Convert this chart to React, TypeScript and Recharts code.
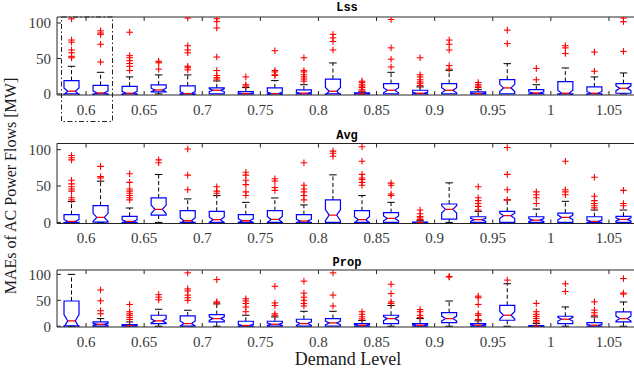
import React from 'react';
import { ComposedChart, Bar, Scatter, XAxis, YAxis } from 'recharts';

// Demand levels (tick labels), two boxes per level
const levels = ['0.6', '0.65', '0.7', '0.75', '0.8', '0.85', '0.9', '0.95', '1', '1.05'];
const tickPos = [1, 3, 5, 7, 9, 11, 13, 15, 17, 19];
const yTicks = [0, 50, 100];
const N_SAMPLES = 40; // sample count used for MATLAB notch width 1.57*IQR/sqrt(n)

// ---- Lss ----
const lssQ1 = [0, 0, 0, 2.8, 0, 0, 0, 0, 0, 0, 0, 0, 0, 0, 0, 0, 0, 0, 0, 1];
const lssMedian = [3.8, 1.4, 1, 5.6, 0.5, 5.2, 0.5, 0.5, 1, 3.8, 0, 5.2, 1, 5.2, 0.5, 8.5, 1.4, 1, 1, 8];
const lssQ3 = [18.8, 12.2, 10.8, 12.7, 11.3, 8.5, 3.3, 8.5, 5.6, 21, 1.4, 14.6, 5.2, 14.6, 2.8, 20.2, 6.1, 17.4, 9.9, 14.6];
const lssWhiskerHi = [39, 30.5, 24, 26.8, 26.8, 18.3, 9, 18.8, 13, 43.7, 3, 30.5, 9.9, 33.3, 6, 42.7, 13, 36.6, 24, 29.6];
const lssOutliers = [
  [106, 76, 73, 62, 58, 53, 51],
  [89, 86, 84, 70, 45],
  [87, 54, 51, 47, 43, 39, 33],
  [46, 44, 35],
  [107, 68, 62, 58, 39, 37, 34],
  [106, 102, 93, 52, 33, 26, 23, 21],
  [24, 13, 11],
  [61, 33, 31, 27, 26],
  [51, 33, 31, 27, 24, 21, 18],
  [84, 79, 74, 62],
  [18, 16, 13, 11, 9, 6, 4],
  [105, 65, 49, 38],
  [51, 27, 24, 20, 17, 15, 12],
  [76, 70, 62, 40, 35],
  [16, 13, 11, 9],
  [90, 71],
  [36, 20],
  [68, 65, 57],
  [59, 32],
  [107, 102, 60],
];

// ---- Avg ----
const avgQ1 = [0, 0.5, 0, 10.1, 0, 0, 0, 0, 0, 0, 0, 0, 0, 4.6, 0, 0, 0, 0, 0, 0];
const avgMedian = [1.4, 6.9, 1.4, 18, 2.3, 3.7, 2.3, 4.1, 1.8, 10.1, 3.7, 5.5, 0, 18, 3.7, 9.2, 3.2, 6.9, 1.4, 4.1];
const avgQ3 = [10.6, 23, 8.3, 33.6, 16.1, 15.2, 10.6, 16.1, 10.6, 30.9, 16.1, 13.4, 0.5, 25.3, 7.8, 15.2, 7.8, 12.9, 7.8, 8.3];
const avgWhiskerHi = [28.6, 56.7, 19.8, 65.9, 32.3, 36.9, 27.6, 33.6, 24, 65.4, 36.9, 27.6, 2.3, 54.4, 15.2, 30.9, 18.4, 29, 17, 17];
const avgOutliers = [
  [92, 89, 86, 58, 53, 49, 46, 43, 34, 31],
  [77, 63, 61],
  [67, 55, 46, 43, 40, 37, 34, 31],
  [86, 82],
  [101, 65, 45],
  [49, 43, 40],
  [69, 65, 58, 52, 42, 37],
  [60, 57, 48, 44],
  [82, 51, 46, 42, 37, 31],
  [98, 95, 91],
  [104, 84, 66, 61, 59, 55, 51],
  [54, 51, 39, 37],
  [17, 12, 8, 6, 4],
  [],
  [49, 34, 30, 26, 22, 17],
  [103, 66, 45, 31],
  [42, 38, 34, 26],
  [84, 45, 42, 38],
  [62, 36, 30, 26, 23, 20],
  [44, 26, 23],
];

// ---- Prop ----
const propQ1 = [0.5, 0, 0, 5.1, 0, 8.3, 0, 0, 0, 0, 0, 5.1, 0, 7, 0, 11.5, 0, 5.1, 0, 8.3];
const propMedian = [10.3, 3.8, 1.3, 10.3, 5.1, 14.7, 1.3, 3.8, 5.1, 6.4, 1.9, 14.7, 1.9, 14.7, 1.9, 21.2, 0, 13.5, 1.9, 14.7];
const propQ3 = [48.7, 8.3, 3.2, 21.2, 19.9, 22.4, 9.6, 9.6, 13.5, 14.7, 5.1, 21.2, 5.1, 26.3, 5.1, 40.4, 1.3, 19.2, 7, 27.6];
const propWhiskerHi = [100, 14.7, 8.3, 32.7, 30.8, 43, 21.2, 17.9, 28.8, 28.8, 11, 40, 14.7, 48.7, 10.3, 82, 5, 37.2, 17.9, 46.8];
const propOutliers = [
  [],
  [70, 49, 30, 24],
  [42, 28, 24, 21, 17, 13],
  [61, 56, 51],
  [103, 72, 68, 60, 55, 50],
  [90, 47, 45],
  [53, 49, 44, 37, 28],
  [77, 45, 40, 24, 21],
  [87, 64, 56, 50, 44, 39],
  [103, 60, 39],
  [28, 23, 18, 14],
  [81, 63, 47, 44],
  [32, 28, 21, 17],
  [96, 95],
  [58, 55, 42, 24, 21, 13],
  [89],
  [44, 28, 23, 19, 15, 11, 8],
  [82, 67],
  [47, 31, 26, 21],
  [92, 64, 62],
];

const AXIS = '#262626';
const TICK_FONT = { fill: '#3a3a3a', fontSize: 15, fontFamily: '"Liberation Serif", "Times New Roman", serif' };

const BoxShape = (props: any) => {
  const { x, y, width, height, payload } = props;
  if (!payload || height == null) return null;
  const lo = payload.wlo;
  const hi = payload.whi;
  const k = height / (hi - lo);
  const py = (v: number) => y + (hi - v) * k;
  const cx = x + width / 2;
  const L = x;
  const R = x + width;
  const hw = width / 4;
  const notch = (1.57 * (payload.q3 - payload.q1)) / Math.sqrt(N_SAMPLES);
  const yQ1 = py(payload.q1);
  const yQ3 = py(payload.q3);
  const yMed = py(payload.med);
  const yNHi = py(payload.med + notch);
  const yNLo = py(payload.med - notch);
  const pts = [
    [L, yQ3], [R, yQ3], [R, yNHi], [cx + hw, yMed], [R, yNLo], [R, yQ1],
    [L, yQ1], [L, yNLo], [cx - hw, yMed], [L, yNHi],
  ].map((p) => p.join(',')).join(' ');
  const capW = width / 4;
  return (
    <g>
      {hi > payload.q3 && (
        <g stroke="#000" strokeWidth={1}>
          <line x1={cx} x2={cx} y1={yQ3} y2={py(hi)} strokeDasharray="4 2.5" />
          <line x1={cx - capW} x2={cx + capW} y1={py(hi)} y2={py(hi)} />
        </g>
      )}
      {payload.q1 > lo && (
        <g stroke="#000" strokeWidth={1}>
          <line x1={cx} x2={cx} y1={yQ1} y2={py(lo)} strokeDasharray="4 2.5" />
          <line x1={cx - capW} x2={cx + capW} y1={py(lo)} y2={py(lo)} />
        </g>
      )}
      <polygon points={pts} fill="none" stroke="#0000ff" strokeWidth={1.2} />
      <line x1={cx - hw} x2={cx + hw} y1={yMed} y2={yMed} stroke="#ff0000" strokeWidth={1.3} />
    </g>
  );
};

const Plus = (props: any) => {
  const { cx, cy } = props;
  if (cx == null || cy == null) return null;
  const s = 3.3;
  return (
    <g stroke="#ff0000" strokeWidth={1.1}>
      <line x1={cx - s} x2={cx + s} y1={cy} y2={cy} />
      <line x1={cx} x2={cx} y1={cy - s} y2={cy + s} />
    </g>
  );
};

type PanelProps = {
  q1: number[];
  med: number[];
  q3: number[];
  whi: number[];
  outliers: number[][];
  top: number;
  bottom: number;
};

function Panel({ q1, med, q3, whi, outliers, top, bottom }: PanelProps) {
  const rows = whi.map((w, i) => ({
    x: i + 0.5,
    range: [0, w],
    wlo: 0,
    whi: w,
    q1: q1[i],
    med: med[i],
    q3: q3[i],
  }));
  const pts = outliers.flatMap((arr, i) => arr.map((v) => ({ x: i + 0.5, y: v })));
  return (
    <div style={{ position: 'absolute', left: 0, top: 0 }}>
      <ComposedChart width={660} height={bottom + 30} data={rows} margin={{ top, right: 22, bottom: 0, left: 0 }}>
        <XAxis
          dataKey="x"
          type="number"
          domain={[0, 20]}
          ticks={tickPos}
          tickFormatter={(v: number) => levels[(v - 1) / 2]}
          height={30}
          tickSize={-4}
          tickMargin={13}
          axisLine={{ stroke: AXIS }}
          tickLine={{ stroke: AXIS }}
          tick={TICK_FONT}
          allowDataOverflow
          interval={0}
        />
        <XAxis
          xAxisId="top"
          orientation="top"
          mirror
          dataKey="x"
          type="number"
          domain={[0, 20]}
          ticks={tickPos}
          tickFormatter={() => ''}
          tickSize={4}
          axisLine={{ stroke: AXIS }}
          tickLine={{ stroke: AXIS }}
          allowDataOverflow
          interval={0}
        />
        <YAxis
          type="number"
          domain={[-1.5, 108.5]}
          ticks={yTicks}
          width={57}
          tickSize={-4}
          tickMargin={10}
          axisLine={{ stroke: AXIS }}
          tickLine={{ stroke: AXIS }}
          tick={TICK_FONT}
          allowDataOverflow
          interval={0}
        />
        <Bar dataKey="range" barSize={15} shape={BoxShape} isAnimationActive={false} />
        <Scatter data={pts} dataKey="y" shape={Plus} isAnimationActive={false} />
      </ComposedChart>
    </div>
  );
}

export default function App() {
  const serif = '"Liberation Serif", "Times New Roman", serif';
  const mono = '"Liberation Mono", "Courier New", monospace';
  return (
    <div style={{ position: 'fixed', left: 0, top: 0, width: 634, height: 376, overflow: 'hidden', background: '#fff' }}>
      <Panel q1={lssQ1} med={lssMedian} q3={lssQ3} whi={lssWhiskerHi} outliers={lssOutliers} top={17} bottom={95} />
      <Panel q1={avgQ1} med={avgMedian} q3={avgQ3} whi={avgWhiskerHi} outliers={avgOutliers} top={143.5} bottom={223.5} />
      <Panel q1={propQ1} med={propMedian} q3={propQ3} whi={propWhiskerHi} outliers={propOutliers} top={270} bottom={327} />
      <svg width={634} height={376} style={{ position: 'absolute', left: 0, top: 0, pointerEvents: 'none', zIndex: 5 }}>
        <text x={347} y={11} textAnchor="middle" fontFamily={mono} fontWeight="bold" fontSize={12} fill="#000">Lss</text>
        <text x={347} y={139} textAnchor="middle" fontFamily={mono} fontWeight="bold" fontSize={12} fill="#000">Avg</text>
        <text x={347} y={266} textAnchor="middle" fontFamily={mono} fontWeight="bold" fontSize={12} fill="#000">Prop</text>
        <text x={348} y={365} textAnchor="middle" fontFamily={serif} fontSize={18} fill="#1a1a1a">Demand Level</text>
        <text transform="translate(16,186) rotate(-90)" textAnchor="middle" fontFamily={serif} fontSize={16} fill="#1a1a1a">MAEs of AC Power Flows [MW]</text>
        <rect x={61.5} y={17} width={51} height={104.5} fill="none" stroke="#222" strokeWidth={1} strokeDasharray="5 2.5 1.5 2.5" />
      </svg>
    </div>
  );
}
